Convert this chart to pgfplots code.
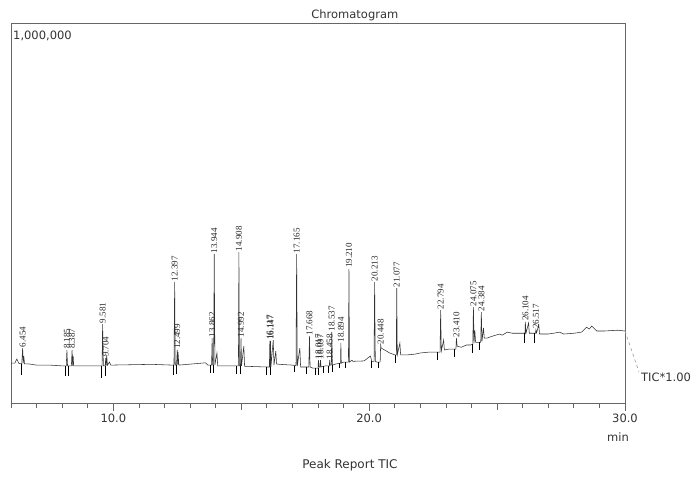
\documentclass[border=0pt]{standalone}
\usepackage{pgfplots}
\pgfplotsset{compat=1.18}
\usepackage{fontspec}
\setmainfont{DejaVu Sans}
\newfontfamily\peakfont{Liberation Serif}

% peak apex: retention time (min), intensity, label
\pgfplotstableread{
t y lab
6.454 145000 6.454
8.185 140000 8.185
8.387 140000 8.387
9.581 208000 9.581
9.704 119000 9.704
12.397 319000 12.397
12.499 140000 12.499
13.862 171000 13.862
13.944 393000 13.944
14.908 398000 14.908
14.992 171000 14.992
16.117 164000 16.117
16.147 164000 16.147
17.165 393000 17.165
17.668 176000 17.668
18.017 113000 18.017
18.097 113000 18.097
18.458 113000 18.458
18.537 187000 18.537
18.894 158000 18.894
19.210 354000 19.210
20.213 319000 20.213
20.448 153000 20.448
21.077 303000 21.077
22.794 245000 22.794
23.410 171000 23.410
24.075 253000 24.075
24.384 240000 24.384
26.104 214000 26.104
26.517 193000 26.517
}\peaks

\begin{document}
\begin{tikzpicture}
\begin{axis}[
  scale only axis, width=614pt, height=379pt,
  xmin=6, xmax=30, ymin=0, ymax=1000000,
  axis line style={black!60, line width=1pt},
  xtick={10,20,30}, xticklabels={10.0,20.0,30.0},
  minor xtick={6,7,...,30},
  extra x ticks={15,25}, extra x tick labels={},
  extra x tick style={major tick length=6.5pt},
  ytick=\empty,
  xtick pos=lower, tick align=outside,
  major tick length=8pt, minor tick length=4.5pt,
  tick style={black!60, line width=0.8pt},
  ticklabel style={font=\fontsize{11.5}{13}\selectfont, text=black!80},
  xticklabel style={yshift=1pt},
  clip=false,
]
% TIC trace
\addplot[black!80, line width=0.55pt] coordinates {
(6.00,105000) (6.15,105000) (6.23,116000) (6.30,105000) (6.42,103000)
(6.454,145000) (6.48,105000) (6.50,124000) (6.53,103000) (6.70,103000)
(7.00,100000) (7.50,100000) (8.00,98000) (8.16,98000) (8.185,140000)
(8.21,98000) (8.36,98000) (8.387,140000) (8.41,98000) (8.43,124000)
(8.45,98000) (8.70,98000) (9.50,98000) (9.56,98000) (9.581,208000)
(9.61,98000) (9.68,98000) (9.704,119000) (9.72,98000) (9.74,126000)
(9.77,100000) (9.85,108000) (9.90,100000) (11.50,102000) (12.30,100000)
(12.37,100000) (12.397,319000) (12.42,100000) (12.47,100000) (12.499,140000)
(12.52,100000) (12.53,134000) (12.56,100000) (13.60,106000) (13.70,100000)
(13.84,100000) (13.862,171000) (13.88,100000) (13.92,100000) (13.944,393000)
(13.97,100000) (14.05,132000) (14.08,98000) (14.80,98000) (14.89,98000)
(14.908,398000) (14.93,98000) (14.97,98000) (14.992,171000) (15.01,98000)
(15.10,150000) (15.13,97000) (16.00,95000) (16.10,95000) (16.117,164000)
(16.13,95000) (16.147,164000) (16.16,95000) (16.25,166000) (16.28,100000)
(16.35,137000) (16.38,103000) (16.50,102000) (17.00,100000) (17.14,98000)
(17.165,393000) (17.19,98000) (17.29,145000) (17.32,95000) (17.64,95000)
(17.668,176000) (17.69,95000) (17.80,92000) (18.00,92000) (18.017,113000)
(18.04,95000) (18.08,95000) (18.097,113000) (18.12,95000) (18.30,98000)
(18.44,98000) (18.458,113000) (18.48,100000) (18.52,100000) (18.537,187000)
(18.56,100000) (18.70,103000) (18.88,105000) (18.894,158000) (18.91,105000)
(19.00,108000) (19.19,108000) (19.210,354000) (19.23,108000) (19.33,113000)
(19.36,110000) (19.80,111000) (20.05,124000) (20.10,110000) (20.19,110000)
(20.213,319000) (20.24,110000) (20.30,108000) (20.43,108000) (20.448,153000)
(20.47,145000) (20.60,140000) (20.80,132000) (21.00,127000) (21.06,127000)
(21.077,303000) (21.10,127000) (21.20,158000) (21.23,127000) (21.50,127000)
(21.80,129000) (22.00,132000) (22.30,134000) (22.60,134000) (22.77,134000)
(22.794,245000) (22.82,137000) (22.91,166000) (22.94,140000) (23.10,142000)
(23.30,142000) (23.39,142000) (23.410,171000) (23.44,150000) (23.60,147000)
(23.80,153000) (23.95,153000) (24.05,155000) (24.075,253000) (24.10,158000)
(24.13,192000) (24.16,160000) (24.36,160000) (24.384,240000) (24.41,163000)
(24.47,198000) (24.50,171000) (24.60,171000) (24.80,176000) (25.10,182000)
(25.20,179000) (25.40,187000) (25.60,184000) (26.00,184000) (26.09,184000)
(26.104,214000) (26.13,184000) (26.23,211000) (26.26,184000) (26.50,184000)
(26.517,193000) (26.54,185000) (26.63,206000) (26.66,182000) (27.00,182000)
(27.20,184000) (27.45,187000) (27.60,182000) (28.00,184000) (28.30,187000)
(28.50,200000) (28.60,195000) (28.70,203000) (28.90,190000) (29.20,190000)
(29.70,192000) (30.00,190000)
};
% peak start / end markers
\addplot[black, line width=0.7pt, unbounded coords=jump] coordinates {
(6.42,103000) (6.42,74000) (6.42,nan)
(8.14,98000) (8.14,71000) (8.14,nan)
(8.24,98000) (8.24,71000) (8.24,nan)
(9.52,98000) (9.52,66000) (9.52,nan)
(9.70,98000) (9.70,71000) (9.70,nan)
(12.33,100000) (12.33,74000) (12.33,nan)
(12.45,100000) (12.45,77000) (12.45,nan)
(13.80,100000) (13.80,79000) (13.80,nan)
(13.91,100000) (13.91,79000) (13.91,nan)
(14.82,98000) (14.82,77000) (14.82,nan)
(14.95,98000) (14.95,77000) (14.95,nan)
(16.00,95000) (16.00,74000) (16.00,nan)
(16.12,95000) (16.12,74000) (16.12,nan)
(17.09,98000) (17.09,82000) (17.09,nan)
(17.55,95000) (17.55,77000) (17.55,nan)
(17.88,92000) (17.88,74000) (17.88,nan)
(18.00,92000) (18.00,74000) (18.00,nan)
(18.20,97000) (18.20,79000) (18.20,nan)
(18.42,98000) (18.42,79000) (18.42,nan)
(18.56,100000) (18.56,82000) (18.56,nan)
(18.85,105000) (18.85,92000) (18.85,nan)
(19.05,108000) (19.05,92000) (19.05,nan)
(20.09,110000) (20.09,92000) (20.09,nan)
(20.37,108000) (20.37,92000) (20.37,nan)
(21.04,127000) (21.04,106000) (21.04,nan)
(22.68,134000) (22.68,113000) (22.68,nan)
(23.34,142000) (23.34,121000) (23.34,nan)
(24.03,155000) (24.03,132000) (24.03,nan)
(24.32,160000) (24.32,140000) (24.32,nan)
(26.08,184000) (26.08,158000) (26.08,nan)
(26.47,184000) (26.47,158000) (26.47,nan)
};
% peak labels
\addplot[draw=none, mark=none, nodes near coords, point meta=explicit symbolic,
  nodes near coords style={rotate=90, anchor=west, inner sep=0.8pt,
    font=\peakfont\fontsize{9}{10}\selectfont, text=black!85}]
  table[x=t, y=y, meta=lab] {\peaks};

\node[anchor=north west, inner sep=0pt, font=\fontsize{11.5}{13}\selectfont, text=black!80]
  at ([shift={(2pt,-6.5pt)}]rel axis cs:0,1) {1,000,000};
\node[anchor=base, inner sep=0pt, font=\fontsize{11.5}{13}\selectfont, text=black!80]
  at ([shift={(0pt,5pt)}]rel axis cs:0.56,1) {Chromatogram};
\node[anchor=base, inner sep=0pt, font=\fontsize{11.5}{13}\selectfont, text=black!80]
  at ([shift={(-7pt,-38pt)}]rel axis cs:1,0) {min};
\node[anchor=base, inner sep=0pt, font=\fontsize{12}{14}\selectfont, text=black!80]
  at ([shift={(0pt,-65pt)}]rel axis cs:0.552,0) {Peak Report TIC};
\draw[black!40, dashed, line width=0.6pt] (axis cs:30,190000) -- ++(14pt,-41pt);
\node[anchor=west, inner sep=0pt, font=\fontsize{11.5}{13}\selectfont, text=black!80]
  at ([shift={(16pt,-46pt)}]axis cs:30,190000) {TIC*1.00};
\end{axis}
\pgfresetboundingbox
\path ([shift={(-11pt,-73pt)}]current axis.south west) rectangle ([shift={(72pt,24pt)}]current axis.north east);
\end{tikzpicture}
\end{document}
